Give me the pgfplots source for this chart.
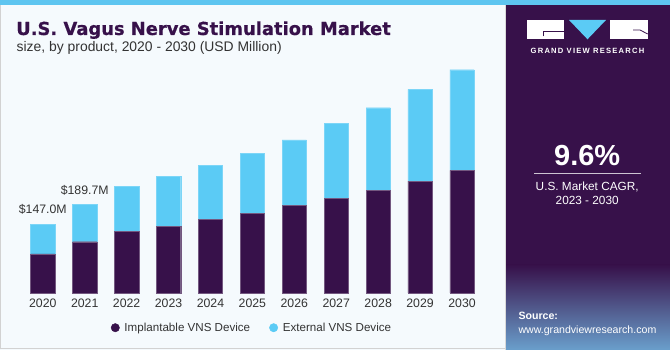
\documentclass[border=0pt]{standalone}
\usepackage{pgfplots}
\pgfplotsset{compat=1.18}
\usepackage{fontspec}
\setmainfont{Liberation Sans}
\newfontfamily\titlefont[BoldFeatures={FakeBold=0.6}]{DejaVu Sans}
\newfontfamily\logofont[LetterSpace=16]{Liberation Sans}
\definecolor{purp}{HTML}{37114A}
\definecolor{sky}{HTML}{5BCBF5}
\definecolor{bg}{HTML}{F5FAFD}
\definecolor{stripe}{HTML}{5EC5F0}
\definecolor{subgray}{HTML}{333333}
\definecolor{panelbot}{HTML}{6A9FCC}

\pgfplotstableread{
x impl ext
0 83.3 63.7
1 109.5 80.2
2 130.9 97.5
3 143.0 106.8
4 157.3 115.7
5 170.8 127.2
6 186.4 140.3
7 202.8 158.7
8 219.9 175.7
9 239.1 195.8
10 262.0 214.7
}\datatable

\begin{document}
\begin{tikzpicture}[x=1pt,y=1pt]
\path[use as bounding box] (0,0) rectangle (670,350);
% backgrounds
\fill[bg] (0,0) rectangle (670,350);
\draw[gray!35, line width=1pt] (0.5,0.5) -- (0.5,345) (0,1.5) -- (506,1.5);
\fill[stripe] (0,345) rectangle (670,350);
\fill[purp] (506,0) rectangle (670,345);
\shade[top color=purp, bottom color=panelbot] (506,0) rectangle (670,85);
\draw[white!70!gray, line width=0.8pt] (505.6,0) -- (505.6,345);

% title
\node[anchor=base west, inner sep=0pt, text=purp] at (16,315)
  {\fontsize{17.9}{20}\titlefont\bfseries U.S. Vagus Nerve Stimulation Market};
\node[anchor=base west, inner sep=0pt, text=subgray] at (16.5,298)
  {\fontsize{13.9}{15}\selectfont size, by product, 2020 - 2030 (USD Million)};

% logo
\fill[white] (526.7,310.7) rectangle (564.3,330);
\fill[sky] (569,330) -- (606,330) -- (587.5,310.7) -- cycle;
\fill[white] (610,310.7) rectangle (647.7,330);
\draw[purp, line width=0.8pt] (543,313.5) -- (543,319) -- (564.3,319);
\draw[purp, line width=0.8pt] (633,320) -- (640,320) -- (647.7,316);
\node[anchor=base, inner sep=0pt, text=white] at (587.5,296.8)
  {\fontsize{7.6}{9}\logofont\bfseries GRAND VIEW RESEARCH};

% CAGR
\node[anchor=base, inner sep=0pt, text=white] at (587.2,184)
  {\fontsize{29}{32}\selectfont\bfseries 9.6\%};
\draw[white!75!purp, line width=1pt] (534,176.7) -- (640.7,176.7);
\node[anchor=base, inner sep=0pt, text=white] at (587.2,159.5)
  {\fontsize{11.8}{14}\selectfont U.S. Market CAGR,};
\node[anchor=base, inner sep=0pt, text=white] at (587.2,145.2)
  {\fontsize{11.8}{14}\selectfont 2023 - 2030};

% source
\node[anchor=base west, inner sep=0pt, text=white] at (518.3,30)
  {\fontsize{10.6}{12}\selectfont\bfseries Source:};
\node[anchor=base west, inner sep=0pt, text=white] at (518.3,16.7)
  {\fontsize{10.6}{12}\selectfont www.grandviewresearch.com};

\begin{axis}[
  at={(10pt,57pt)}, anchor=south west,
  scale only axis, width=485pt, height=233pt,
  xmin=-0.782, xmax=10.787, ymin=0, ymax=497.5,
  ybar stacked, bar width=24.3pt,
  axis line style={draw=none}, tick style={draw=none},
  ytick=\empty,
  xtick={0,...,10},
  xticklabel={\pgfmathparse{int(2020+\tick)}\pgfmathresult},
  xticklabel style={anchor=base, yshift=-15pt, text=subgray, font=\fontsize{12.3}{14}\selectfont},
  legend style={at={(0.499,-0.149)}, anchor=center, draw=none, fill=none,
    font=\fontsize{11.6}{13}\selectfont, text=subgray,
    /tikz/every even column/.append style={column sep=17pt}},
  legend columns=2,
  clip=false,
]
\addplot[fill=purp, draw=purp!70!white, line width=0.4pt,
  legend image code/.code={\fill[purp] (4pt,0pt) circle (4.2pt); \path (11pt,0pt);}]
  table[x=x, y=impl] {\datatable};
\addlegendentry{Implantable VNS Device}
\addplot[fill=sky, draw=sky!80!white, line width=0.4pt,
  legend image code/.code={\fill[sky] (4pt,0pt) circle (4.2pt); \path (11pt,0pt);}]
  table[x=x, y=ext] {\datatable};
\addlegendentry{External VNS Device}
\node[anchor=base, text=subgray, font=\fontsize{12.3}{14}\selectfont, inner sep=0pt]
  at (axis cs:0,147.0) [yshift=10.5pt] {\$147.0M};
\node[anchor=base, text=subgray, font=\fontsize{12.3}{14}\selectfont, inner sep=0pt]
  at (axis cs:1,189.7) [yshift=10pt] {\$189.7M};
\end{axis}
\end{tikzpicture}
\end{document}
